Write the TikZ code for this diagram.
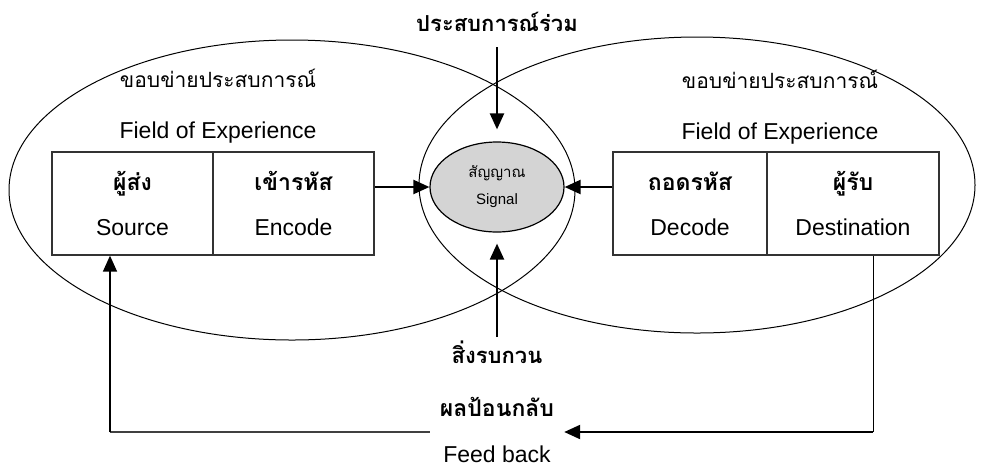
\documentclass[tikz,border=0pt]{standalone}
\usepackage{fontspec}
\setmainfont{Liberation Sans}
\newfontfamily\thai[Script=Thai]{Loma}
\usetikzlibrary{shapes.geometric,arrows.meta}

\begin{document}
\begin{tikzpicture}[x=1pt,y=-1pt,
  box/.style={draw=black!80,line width=1.3pt,minimum height=103pt,inner sep=0pt,align=center,font=\fontsize{23}{45}\selectfont},
  arr/.style={line width=2.2pt,-{Triangle[length=16pt,width=14pt]}},
  lbl/.style={font=\fontsize{22}{28}\selectfont}]
\useasboundingbox (0,0) rectangle (981,467);
\draw[line width=1pt] (292,190) ellipse [x radius=283pt,y radius=150pt];
\draw[line width=1pt] (697,185) ellipse [x radius=278pt,y radius=148pt];
\node[ellipse,draw,line width=1.2pt,fill=black!17,minimum width=134pt,minimum height=90pt,align=center,font=\fontsize{15}{27}\selectfont] (signal) at (497,187) {{\thai สัญญาณ}\\Signal};
\node[align=center,font=\fontsize{23}{51}\selectfont] (fieldL) at (218,106) {{\thai\fontsize{21}{51}\selectfont ขอบข่ายประสบการณ์}\\Field of Experience};
\node[align=center,font=\fontsize{23}{51}\selectfont] (fieldR) at (780,107) {{\thai\fontsize{21}{51}\selectfont ขอบข่ายประสบการณ์}\\Field of Experience};
\node[box,minimum width=161pt] (source) at (132.5,203.5) {{\thai\bfseries ผู้ส่ง}\\Source};
\node[box,minimum width=161pt] (encode) at (293.5,203.5) {{\thai\bfseries เข้ารหัส}\\Encode};
\node[box,minimum width=154pt] (decode) at (690,203.5) {{\thai\bfseries ถอดรหัส}\\Decode};
\node[box,minimum width=172pt] (dest) at (853,203.5) {{\thai\bfseries ผู้รับ}\\Destination};
\node[lbl] (shared) at (497,22) {\thai\bfseries ประสบการณ์ร่วม};
\node[lbl] (noise) at (497,352) {\thai\bfseries สิ่งรบกวน};
\node[align=center,minimum width=134pt,font=\fontsize{23}{46}\selectfont] (fb) at (497,430) {{\thai\bfseries ผลป้อนกลับ}\\Feed back};
\coordinate (fbR) at (873,432);
\coordinate (fbL) at (110,432);
\draw[arr,shorten <=12pt,shorten >=12pt] (shared.south) -- (signal.north);
\draw[arr,shorten >=11pt] (noise.north) -- (signal.south);
\draw[arr] (encode.east |- signal) -- (signal.west);
\draw[arr] (decode.west |- signal) -- (signal.east);
\draw[line width=1pt] (dest.south -| fbR) -- (fbR);
\draw[arr] (fbR) -- (fb.east |- fbR);
\draw[line width=1.3pt,black!75] (fb.west |- fbL) -- (fbL);
\draw[arr,line width=1.6pt] (fbL) -- (source.south -| fbL);
\end{tikzpicture}
\end{document}
